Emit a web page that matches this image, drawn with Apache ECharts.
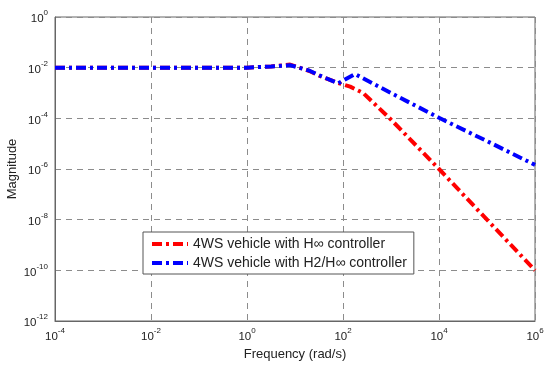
<!DOCTYPE html>
<html>
<head>
<meta charset="utf-8">
<script src="https://cdn.jsdelivr.net/npm/echarts@6/dist/echarts.min.js"></script>
<style>
html,body{margin:0;padding:0;background:#fff;}
#chart{width:550px;height:367px;}
</style>
</head>
<body>
<div id="chart"></div>
<script>
// Frequency (rad/s) and magnitude values
var seriesNames = ['4WS vehicle with H\u221e controller', '4WS vehicle with H2/H\u221e controller'];
var freqHinf = [1e-4, 1e-2, 1, 3.2, 7.9, 20, 32, 79, 141, 263, 1000, 1e4, 1e5, 1e6];
var magHinf  = [1e-2, 1e-2, 1e-2, 1.12e-2, 1.32e-2, 7.4e-3, 4.8e-3, 2.5e-3, 1.78e-3, 1e-3, 8.9e-5, 1e-6, 1e-8, 1e-10];
var freqH2   = [1e-4, 1e-2, 1, 3.2, 7.9, 20, 32, 79, 178, 1000, 1e4, 1e5, 1e6];
var magH2    = [1e-2, 1e-2, 1e-2, 1.12e-2, 1.26e-2, 7.6e-3, 5e-3, 2.4e-3, 5.6e-3, 1e-3, 1.05e-4, 1.26e-5, 1.45e-6];
var xTickExps = [-4, -2, 0, 2, 4, 6];
var yTickExps = [-12, -10, -8, -6, -4, -2, 0];

function toLog(fs, ms) {
  return fs.map(function (f, i) { return [Math.log10(f), Math.log10(ms[i])]; });
}
var FONT = 'Liberation Sans, Arial, sans-serif';
var gridLine = { show: true, lineStyle: { color: '#8c8c8c', type: [6, 5], width: 1 } };
function powLabel(v) { return '{b|10}{e|' + Math.round(v) + '}'; }
var rich = {
  b: { fontSize: 11.5, fontFamily: FONT, color: '#222', verticalAlign: 'bottom', lineHeight: 16 },
  e: { fontSize: 8, fontFamily: FONT, color: '#222', verticalAlign: 'top', lineHeight: 16 }
};

var chart = echarts.init(document.getElementById('chart'), null, { renderer: 'canvas' });
chart.setOption({
  animation: false,
  backgroundColor: '#ffffff',
  grid: { left: 55, right: 15, top: 17, bottom: 46, show: true, borderColor: '#666', borderWidth: 1,
          backgroundColor: 'transparent', containLabel: false, outerBoundsMode: 'none' },
  xAxis: {
    type: 'value', min: xTickExps[0], max: xTickExps[xTickExps.length - 1], interval: 2,
    name: 'Frequency (rad/s)', nameLocation: 'middle', nameGap: 27, nameMoveOverlap: false,
    nameTextStyle: { fontSize: 13, fontFamily: FONT, color: '#222' },
    axisLine: { show: true, onZero: false, lineStyle: { color: '#666', width: 1 } },
    axisTick: { show: false },
    axisLabel: { formatter: powLabel, rich: rich, margin: 6 },
    splitLine: gridLine
  },
  yAxis: {
    type: 'value', min: yTickExps[0], max: yTickExps[yTickExps.length - 1], interval: 2,
    name: 'Magnitude', nameLocation: 'middle', nameGap: 36, nameMoveOverlap: false,
    nameTextStyle: { fontSize: 13, fontFamily: FONT, color: '#222' },
    axisLine: { show: true, onZero: false, lineStyle: { color: '#666', width: 1 } },
    axisTick: { show: false },
    axisLabel: { formatter: powLabel, rich: rich, margin: 7 },
    splitLine: gridLine
  },
  legend: {
    orient: 'vertical', left: 143, top: 232,
    padding: [5, 7, 4, 7], itemGap: 5, itemWidth: 36, itemHeight: 14,
    backgroundColor: '#fff', borderColor: '#555', borderWidth: 1, borderRadius: 0,
    itemStyle: { opacity: 0 },
    lineStyle: { width: 4 },
    textStyle: { fontSize: 14, fontFamily: FONT, color: '#222' },
    data: seriesNames
  },
  series: [
    {
      name: seriesNames[0], type: 'line', data: toLog(freqHinf, magHinf),
      symbol: 'none', showSymbol: false, smooth: false, z: 2,
      lineStyle: { color: '#ff0000', width: 4, type: [10, 4, 3, 4] },
      itemStyle: { color: '#ff0000' }
    },
    {
      name: seriesNames[1], type: 'line', data: toLog(freqH2, magH2),
      symbol: 'none', showSymbol: false, smooth: false, z: 3,
      lineStyle: { color: '#0000ff', width: 4, type: [10, 4, 3, 4] },
      itemStyle: { color: '#0000ff' }
    }
  ]
});
</script>
</body>
</html>
